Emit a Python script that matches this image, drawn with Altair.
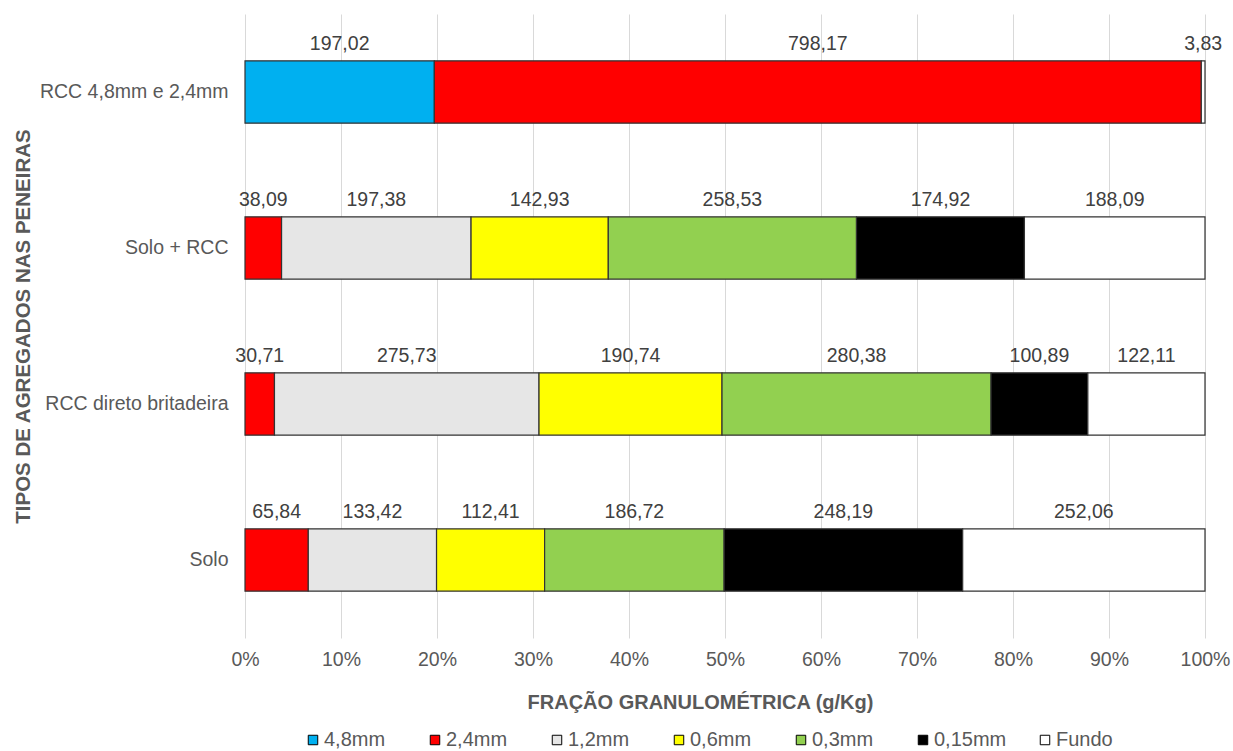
import altair as alt
import pandas as pd

categories = ["RCC 4,8mm e 2,4mm", "Solo + RCC", "RCC direto britadeira", "Solo"]
fractions = ["4,8mm", "2,4mm", "1,2mm", "0,6mm", "0,3mm", "0,15mm", "Fundo"]
colors = ["#00B0F0", "#FF0000", "#E6E6E6", "#FFFF00", "#92D050", "#000000", "#FFFFFF"]

rcc_48_24 = [197.02, 798.17, None, None, None, None, 3.83]
solo_rcc = [None, 38.09, 197.38, 142.93, 258.53, 174.92, 188.09]
rcc_direto = [None, 30.71, 275.73, 190.74, 280.38, 100.89, 122.11]
solo = [None, 65.84, 133.42, 112.41, 186.72, 248.19, 252.06]

series = [rcc_48_24, solo_rcc, rcc_direto, solo]
rows = []
for cat, vals in zip(categories, series):
    for i, (frac, v) in enumerate(zip(fractions, vals)):
        if v is None:
            continue
        rows.append({"cat": cat, "frac": frac, "ord": i, "value": v,
                     "label": f"{v:.2f}".replace(".", ",")})
df = pd.DataFrame(rows)

FONT = "Liberation Sans"
FS = 19.5

base = alt.Chart(df).transform_stack(
    stack="value", groupby=["cat"], as_=["x0", "x1"], offset="normalize",
    sort=[alt.SortField("ord", order="ascending")]
).transform_calculate(mid="(datum.x0 + datum.x1) / 2")

yenc = alt.Y("cat:N", sort=categories,
             scale=alt.Scale(paddingInner=0.6, paddingOuter=0.3),
             axis=alt.Axis(title="TIPOS DE AGREGADOS NAS PENEIRAS", domain=False, ticks=False,
                           labelPadding=17, labelFontSize=FS, labelColor="#595959", labelFont=FONT,
                           labelLimit=260,
                           titleFont=FONT, titleFontSize=20.5, titleFontWeight="bold", titleColor="#595959",
                           titleX=-222, titleY=312, titleAngle=-90, titleAlign="center",
                           titleBaseline="middle", grid=False))

bars = base.mark_bar(stroke="#333333", strokeWidth=1.2).encode(
    x=alt.X("x0:Q", scale=alt.Scale(domain=[0, 1]),
            axis=alt.Axis(format=".0%", values=[i / 10 for i in range(11)], title="FRAÇÃO GRANULOMÉTRICA (g/Kg)",
                          domain=False, ticks=False, labelPadding=12, labelFontSize=FS, labelFlush=False,
                          labelColor="#595959", labelFont=FONT, grid=True, gridColor="#D9D9D9",
                          titleFont=FONT, titleFontSize=20, titleFontWeight="bold", titleColor="#595959",
                          titleX=455, titleY=64, titleBaseline="middle")),
    x2="x1:Q",
    y=yenc,
    color=alt.Color("frac:N", scale=alt.Scale(domain=fractions, range=colors),
                    legend=alt.Legend(title=None, orient="none", direction="horizontal", columns=7,
                                      legendX=58, legendY=716, symbolType="square", symbolSize=90,
                                      symbolStrokeColor="#000000", symbolStrokeWidth=1,
                                      labelFont=FONT, labelFontSize=20, labelColor="#595959",
                                      labelOffset=1, columnPadding=28, gridAlign="all")),
)

texts = base.mark_text(dy=-48, font=FONT, fontSize=FS, color="#404040", baseline="middle").encode(
    x="mid:Q",
    y=alt.Y("cat:N", sort=categories),
    text="label:N",
)

chart = (bars + texts).properties(
    width=960, height=624,
    autosize=alt.AutoSizeParams(type="none"),
    padding={"left": 245, "top": 14, "right": 28, "bottom": 113},
    background="white",
).configure_view(stroke=None)

chart.save("out.html", embed_options={"renderer": "svg", "actions": False})
